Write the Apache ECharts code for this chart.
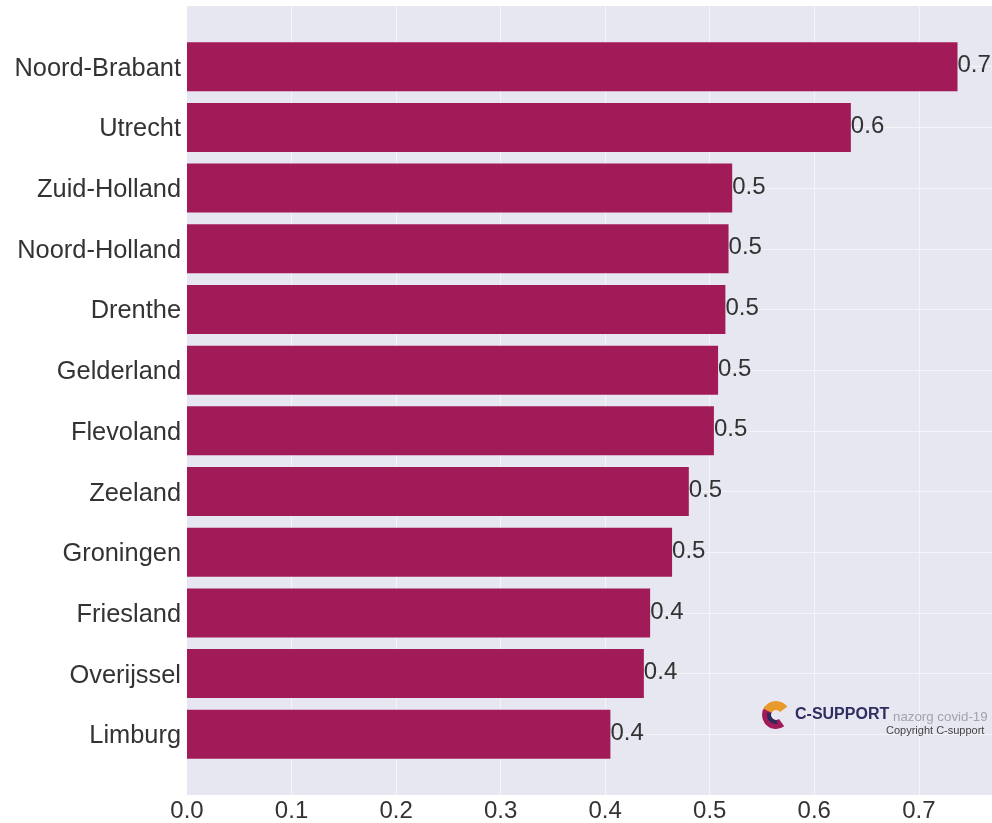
<!DOCTYPE html>
<html><head><meta charset="utf-8">
<style>html,body{margin:0;padding:0;background:#fff}#c{width:992px;height:823px}</style>
<script src="https://cdn.jsdelivr.net/npm/echarts@6/dist/echarts.min.js"></script>
</head><body><div id="c"></div>
<script>
const provinces = ['Noord-Brabant','Utrecht','Zuid-Holland','Noord-Holland','Drenthe','Gelderland','Flevoland','Zeeland','Groningen','Friesland','Overijssel','Limburg'];
const scores = [0.737,0.635,0.5215,0.518,0.515,0.508,0.504,0.480,0.464,0.443,0.437,0.405];
const xTicks = [0,0.1,0.2,0.3,0.4,0.5,0.6,0.7];
const font = '"Liberation Sans", Arial, sans-serif';
const txt = '#333';
const gridLine = {color:'#f4f4f9', width:1};
const chart = echarts.init(document.getElementById('c'), null, {renderer:'canvas'});
const arc = (r, a0, a1, color, w) => ({
  type:'arc', z:100, shape:{cx:776, cy:715, r, startAngle:a0*Math.PI, endAngle:a1*Math.PI},
  style:{stroke:color, lineWidth:w, fill:null, lineCap:'butt'}
});
chart.setOption({
  animation:false,
  backgroundColor:'#fff',
  grid:{left:187, right:0, top:6, bottom:28, containLabel:false, show:true, backgroundColor:'#e7e7f1', borderWidth:0},
  xAxis:{
    type:'value', min:0, max:0.77, interval:0.1,
    axisLine:{show:false}, axisTick:{show:false},
    splitLine:{show:true, showMinLine:false, showMaxLine:false, lineStyle:gridLine},
    axisLabel:{color:txt, fontFamily:font, fontSize:24, margin:4, showMaxLabel:false,
      formatter:v => xTicks.includes(+v.toFixed(1)) ? v.toFixed(1) : ''}
  },
  yAxis:{
    type:'category', inverse:true, boundaryGap:false,
    data:['',...provinces,''],
    axisLine:{show:false}, axisTick:{show:false},
    splitLine:{show:true, interval:i => i>0 && i<13, lineStyle:gridLine},
    axisLabel:{color:txt, fontFamily:font, fontSize:25.4, margin:6, interval:0,
      formatter:v => v ? '{a|' + v + '}' : '',
      rich:{a:{color:txt, fontFamily:font, fontSize:25.4, padding:[4,0,0,0]}}}
  },
  series:[{
    type:'bar', barWidth:49, itemStyle:{color:'#a21b59'},
    data:[null,...scores,null],
    label:{show:true, position:'right', distance:0, offset:[0,-1], color:txt, fontFamily:font, fontSize:24,
      formatter:p => p.value.toFixed(1)}
  }],
  graphic:[
    arc(9.5,0.3,1.2,'#a21b59',9),
    arc(9.5,1.15,1.8,'#e89a2c',9),
    arc(7,0.45,1.1,'#2c2c5c',4),
    {type:'text', z:100, x:795, y:707, style:{text:'C-SUPPORT', font:'bold 16px '+font, fill:'#2e2e60'}},
    {type:'text', z:100, x:893, y:711, style:{text:'nazorg covid-19', font:'13.3px '+font, fill:'#a3a3ad'}},
    {type:'text', z:100, x:886, y:725.5, style:{text:'Copyright C-support', font:'11px '+font, fill:'#444'}}
  ]
});
</script></body></html>
